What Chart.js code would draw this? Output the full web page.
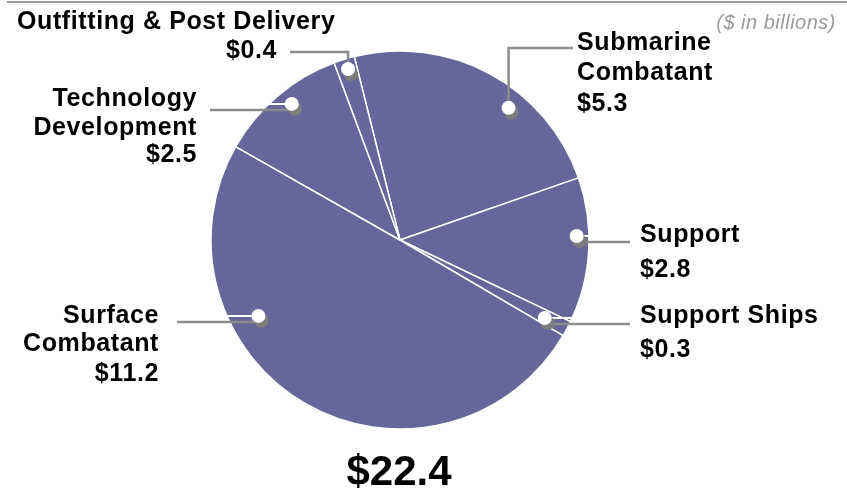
<!DOCTYPE html>
<html>
<head>
<meta charset="utf-8">
<script src="https://cdn.jsdelivr.net/npm/chart.js@4/dist/chart.umd.min.js"></script>
<style>
  html, body { margin: 0; padding: 0; background: #fff; }
  #wrap { position: relative; width: 847px; height: 492px; }
</style>
</head>
<body>
<div id="wrap"><canvas id="c" width="847" height="492"></canvas></div>
<script>
// ---- data ----
const categories = ['Submarine Combatant', 'Support', 'Support Ships', 'Surface Combatant', 'Technology Development', 'Outfitting & Post Delivery'];
const values = [5.3, 2.8, 0.3, 11.2, 2.5, 0.4];
const totalLabel = '$22.4';
const unitNote = '($ in billions)';

// ---- label layout (annotation placement, not data) ----
const labelLayout = [
  { shift: 11, rf: 0.905, path: [['v', 48], ['h', 573]], lines: [['Submarine', 577, 50, 'left'], ['Combatant', 577, 80, 'left']], val: [577, 111, 'left'] },
  { shift: -4.5, rf: 0.935, path: [['h', 630]], lines: [['Support', 640, 242, 'left']], val: [640, 277, 'left'] },
  { shift: 0.3, rf: 0.87, path: [['h', 630]], lines: [['Support Ships', 640, 323, 'left']], val: [640, 357, 'left'] },
  { shift: 31.8, rf: 0.85, path: [['h', 177]], lines: [['Surface', 159, 323, 'right'], ['Combatant', 159, 351, 'right']], val: [159, 381, 'right'] },
  { shift: 1.9, rf: 0.92, path: [['h', 210]], lines: [['Technology', 197, 106, 'right'], ['Development', 197, 135, 'right']], val: [197, 162, 'right'] },
  { shift: 0.3, rf: 0.945, path: [['v', 52], ['h', 290]], lines: [['Outfitting & Post Delivery', 17, 29, 'left']], val: [277, 58, 'right'] }
];

const annotations = {
  id: 'annotations',
  afterDatasetsDraw(chart) {
    const ctx = chart.ctx;
    const meta = chart.getDatasetMeta(0);
    ctx.save();
    // top rule
    ctx.strokeStyle = '#9a9a9a';
    ctx.lineWidth = 2;
    ctx.beginPath(); ctx.moveTo(7, 2); ctx.lineTo(847, 2); ctx.stroke();
    // unit note
    ctx.fillStyle = '#9a9a9a';
    ctx.font = 'italic 20px "Liberation Sans", Arial, sans-serif';
    ctx.letterSpacing = '0.5px';
    ctx.textAlign = 'right';
    ctx.textBaseline = 'alphabetic';
    ctx.fillText(unitNote, 836, 29);

    meta.data.forEach((arc, i) => {
      const L = labelLayout[i];
      const p = arc.getProps(['x', 'y', 'startAngle', 'endAngle', 'outerRadius'], true);
      const mid = (p.startAngle + p.endAngle) / 2 + L.shift * Math.PI / 180;
      const r = p.outerRadius * L.rf;
      const dx = p.x + Math.cos(mid) * r;
      const dy = p.y + Math.sin(mid) * r;

      const horizFirst = L.path[0][0] === 'h';
      const build = (sx, sy) => {
        const pts = [[sx, sy]];
        let cx = sx, cy = sy;
        L.path.forEach(([dir, v]) => {
          if (dir === 'h') cx = v; else cy = v;
          pts.push([cx, cy]);
        });
        return pts;
      };
      const stroke = (pts, col, w) => {
        ctx.strokeStyle = col; ctx.lineWidth = w;
        ctx.beginPath();
        pts.forEach(([x, y], k) => k ? ctx.lineTo(x, y) : ctx.moveTo(x, y));
        ctx.stroke();
      };
      ctx.lineCap = 'butt';
      ctx.lineJoin = 'miter';
      if (horizFirst) {
        stroke(build(dx, dy), '#ffffff', 2);
        stroke(build(dx + 3, dy + 6), '#8c8c8c', 2.5);
      } else {
        stroke(build(dx, dy), '#8c8c8c', 2.5);
      }
      // dot shadow + dot
      ctx.fillStyle = '#7d7d7d';
      ctx.beginPath(); ctx.arc(dx + 3, dy + 5, 7, 0, Math.PI * 2); ctx.fill();
      ctx.fillStyle = '#ffffff';
      ctx.beginPath(); ctx.arc(dx, dy, 7, 0, Math.PI * 2); ctx.fill();

      // texts
      ctx.fillStyle = '#000000';
      ctx.font = 'bold 25px "Liberation Sans", Arial, sans-serif';
      ctx.letterSpacing = '0.6px';
      L.lines.forEach(([t, x, y, al]) => {
        ctx.textAlign = al;
        ctx.fillText(t, x, y);
      });
      const [vx, vy, va] = L.val;
      ctx.textAlign = va;
      ctx.fillText('$' + values[i].toFixed(1), vx, vy);
    });

    // total
    ctx.fillStyle = '#000000';
    ctx.font = 'bold 42px "Liberation Sans", Arial, sans-serif';
    ctx.letterSpacing = '0px';
    ctx.textAlign = 'center';
    ctx.fillText(totalLabel, 399, 485);
    ctx.restore();
  }
};

new Chart(document.getElementById('c'), {
  type: 'pie',
  data: {
    labels: categories,
    datasets: [{
      data: values,
      backgroundColor: '#66669a',
      borderColor: '#ffffff',
      borderWidth: 1.5,
      radius: 189
    }]
  },
  options: {
    responsive: false,
    animation: false,
    rotation: -14,
    layout: { padding: { left: 210, right: 257, top: 50, bottom: 62 } },
    plugins: { legend: { display: false }, tooltip: { enabled: false } }
  },
  plugins: [annotations]
});
</script>
</body>
</html>
